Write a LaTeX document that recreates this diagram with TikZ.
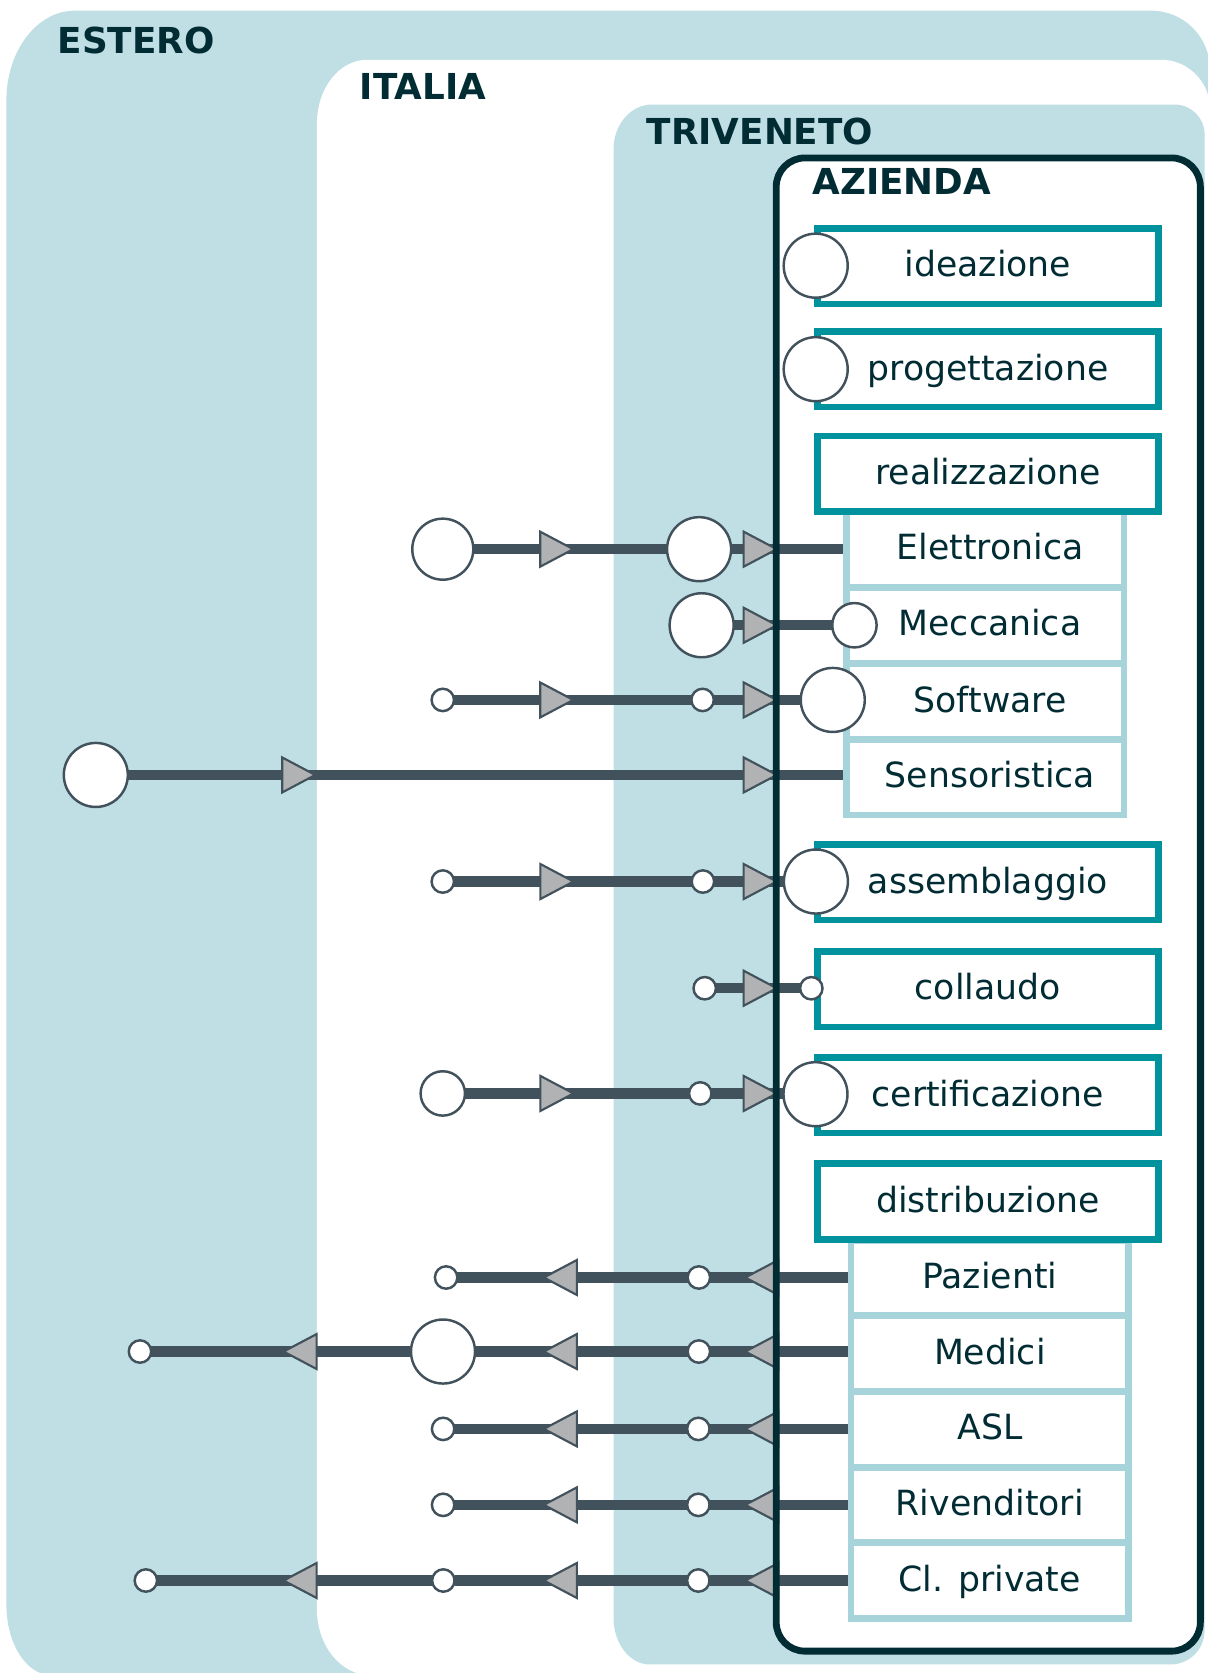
\documentclass[tikz,border=0pt]{standalone}
\usepackage{fontspec}
\setmainfont{DejaVu Sans}
\definecolor{bgblue}{HTML}{C0DFE4}
\definecolor{darkc}{HTML}{012C34}
\definecolor{tealc}{HTML}{00939E}
\definecolor{subc}{HTML}{A7D4DA}
\definecolor{linec}{HTML}{42525C}
\definecolor{trifill}{HTML}{B1B2B4}
\newdimen\pxu \pxu=0.8pt
\newcommand\diagbody{\fontsize{26pt}{30pt}\selectfont}
\newcommand\diagtitle{\fontsize{26.8pt}{30pt}\selectfont\bfseries}
\pgfdeclarelayer{bgl}
\pgfdeclarelayer{linel}
\pgfsetlayers{bgl,linel,main}
\tikzset{
  conn/.style={draw=linec, line width=9.5\pxu},
  circ/.style={circle, draw=linec, fill=white, line width=2.3\pxu, inner sep=0pt, outer sep=0pt},
  bigc/.style={circ, minimum size=60\pxu},
  medc/.style={circ, minimum size=41.6\pxu},
  smc/.style={circ, minimum size=21\pxu},
  boxbase/.style={rectangle, fill=white, inner sep=0pt, font=\diagbody, text=darkc,
    text height=26.5\pxu, text depth=6.5\pxu, minimum height=70.8\pxu},
  tealbox/.style={boxbase, draw=tealc, line width=6.2\pxu, minimum width=319.2\pxu},
  subbox/.style={boxbase, draw=subc, line width=6.2\pxu, minimum width=259.9\pxu},
  subboxr/.style={subbox, execute at begin node={\hspace*{9\pxu}}},
  ttl/.style={anchor=base west, inner sep=0pt, font=\diagtitle, text=darkc},
  trist/.style={fill=trifill, draw=linec, line width=2\pxu, line join=miter},
  trir/.pic={\filldraw[trist] (0,0) -- (-31,-16.4) -- (-31,16.4) -- cycle;},
  tril/.pic={\filldraw[trist] (0,0) -- (31,-16.4) -- (31,16.4) -- cycle;}
}
\begin{document}
\begin{tikzpicture}[x=0.8pt,y=-0.8pt]
\useasboundingbox (0,0) rectangle (1132,1568);

% ---------- background areas ----------
\begin{pgfonlayer}{bgl}
\fill[bgblue] (6,94) .. controls (6,47.6) and (34.7,10) .. (70,10)
  -- (1079,10) .. controls (1109.4,10) and (1134,34.6) .. (1134,65)
  -- (1134,1570) -- (48,1570) .. controls (24.8,1570) and (6,1540.5) .. (6,1504) -- cycle;
\fill[white] (297,116) .. controls (297,82.9) and (318,56) .. (344,56)
  -- (1088,56) .. controls (1113.4,56) and (1134,76.6) .. (1134,102)
  -- (1134,1570) -- (347,1570) .. controls (319.4,1570) and (297,1542.2) .. (297,1508) -- cycle;
\fill[bgblue] (575,140) .. controls (575,116.8) and (591.1,98) .. (611,98)
  -- (1101,98) .. controls (1116.5,98) and (1129,110.5) .. (1129,126)
  -- (1129,1528) .. controls (1129,1545.7) and (1114.7,1560) .. (1097,1560)
  -- (609,1560) .. controls (590.2,1560) and (575,1540.3) .. (575,1516) -- cycle;
\fill[white, rounded corners=27\pxu] (727.5,148) rectangle (1125,1547.5);
\end{pgfonlayer}

% ---------- arrow markers ----------
\foreach \x/\y in {537.3/514.7, 728/514.7, 728/586, 537.3/656, 728/656,
                   295.5/726.3, 728/726.3, 537.5/826.2, 728/826.2, 728/926.2,
                   537.5/1024.8, 728/1024.8}
  \pic at (\x,\y) {trir};
\foreach \y in {1197.3, 1266.7, 1339.2, 1410.4, 1481.3}
  {\pic at (509.7,\y) {tril}; \pic at (698.5,\y) {tril};}
\pic at (265.8,1266.7) {tril};
\pic at (265.8,1481.3) {tril};

% ---------- AZIENDA frame ----------
\draw[darkc, line width=6.4\pxu, rounded corners=27\pxu] (727.5,148) rectangle (1125,1547.5);

% ---------- sub boxes ----------
\node[subboxr] (el) at (923.35,514.75) {Elettronica};
\node[subboxr] (me) at (923.35,586) {Meccanica};
\node[subboxr] (sw) at (923.35,657.5) {Software};
\node[subboxr] (se) at (923.35,728.5) {Sensoristica};
\node[subbox] (pz) at (927.7,1197.75) {Pazienti};
\node[subbox] (md) at (927.7,1268.5) {Medici};
\node[subbox] (asl) at (927.7,1339.5) {ASL};
\node[subbox] (rv) at (927.7,1410.5) {Rivenditori};
\node[subbox] (cp) at (927.7,1481.5) {Cl. private};

% ---------- phase boxes ----------
\node[tealbox] (ide) at (925.9,249.5) {ideazione};
\node[tealbox] (pro) at (925.9,346.2) {progettazione};
\node[tealbox] (rea) at (925.9,444) {realizzazione};
\node[tealbox] (ass) at (925.9,827) {assemblaggio};
\node[tealbox] (col) at (925.9,927) {collaudo};
\node[tealbox] (cer) at (925.9,1026.6) {certificazione};
\node[tealbox] (dis) at (925.9,1126.1) {distribuzione};

% ---------- circles ----------
\node[bigc] (ci1) at (764.5,249) {};
\node[bigc] (ci2) at (764.5,346) {};
\node[bigc, minimum size=57.2\pxu] (e1) at (415,514.7) {};
\node[bigc] (e2) at (655.2,514.7) {};
\node[bigc] (m1) at (657.6,586) {};
\node[medc] (m2) at (800.8,586) {};
\node[smc] (s1) at (415,656) {};
\node[smc] (s2) at (658.5,656) {};
\node[bigc] (s3) at (780.5,656) {};
\node[bigc] (n1) at (89.8,726.3) {};
\node[smc] (a1) at (415,826.2) {};
\node[smc] (a2) at (658.8,826.2) {};
\node[bigc] (a3) at (764.7,826.2) {};
\node[smc] (c1) at (660.5,926.2) {};
\node[smc] (c2) at (760.4,926.2) {};
\node[medc] (t1) at (415,1024.8) {};
\node[smc] (t2) at (656.3,1024.8) {};
\node[bigc] (t3) at (764.3,1025.5) {};
\node[smc] (p1) at (418.1,1197.3) {};
\node[smc] (p2) at (655,1197.3) {};
\node[smc] (d0) at (131.2,1266.7) {};
\node[bigc] (d1) at (415.2,1266.7) {};
\node[smc] (d2) at (655,1266.7) {};
\node[smc] (q1) at (415.3,1339.2) {};
\node[smc] (q2) at (654.5,1339.2) {};
\node[smc] (r1) at (415.3,1410.4) {};
\node[smc] (r2) at (654.5,1410.4) {};
\node[smc] (k0) at (136.7,1481.3) {};
\node[smc] (k1) at (415.5,1481.3) {};
\node[smc] (k2) at (654.5,1481.3) {};

% ---------- titles ----------
\node[ttl] (tes) at (53.8,50) {ESTERO};
\node[ttl] (tit) at (337,92.8) {ITALIA};
\node[ttl] (ttr) at (605.9,135.3) {TRIVENETO};
\node[ttl] (taz) at (761.4,182.7) {AZIENDA};

% ---------- connectors ----------
\begin{pgfonlayer}{linel}
\draw[conn] (e1) -- (e2);
\draw[conn] (e2) -- (e2 -| el.west);
\draw[conn] (m1) -- (m2);
\draw[conn] (s1) -- (s2);
\draw[conn] (s2) -- (s3);
\draw[conn] (n1) -- (n1 -| se.west);
\draw[conn] (a1) -- (a2);
\draw[conn] (a2) -- (a3);
\draw[conn] (c1) -- (c2);
\draw[conn] (t1) -- (t2);
\draw[conn] (t2) -- (t2 -| t3);
\draw[conn] (p2 -| pz.west) -- (p2);
\draw[conn] (p2) -- (p1);
\draw[conn] (d2 -| md.west) -- (d2);
\draw[conn] (d2) -- (d1);
\draw[conn] (d1) -- (d0);
\draw[conn] (q2 -| asl.west) -- (q2);
\draw[conn] (q2) -- (q1);
\draw[conn] (r2 -| rv.west) -- (r2);
\draw[conn] (r2) -- (r1);
\draw[conn] (k2 -| cp.west) -- (k2);
\draw[conn] (k2) -- (k1);
\draw[conn] (k1) -- (k0);
\end{pgfonlayer}
\end{tikzpicture}
\end{document}
